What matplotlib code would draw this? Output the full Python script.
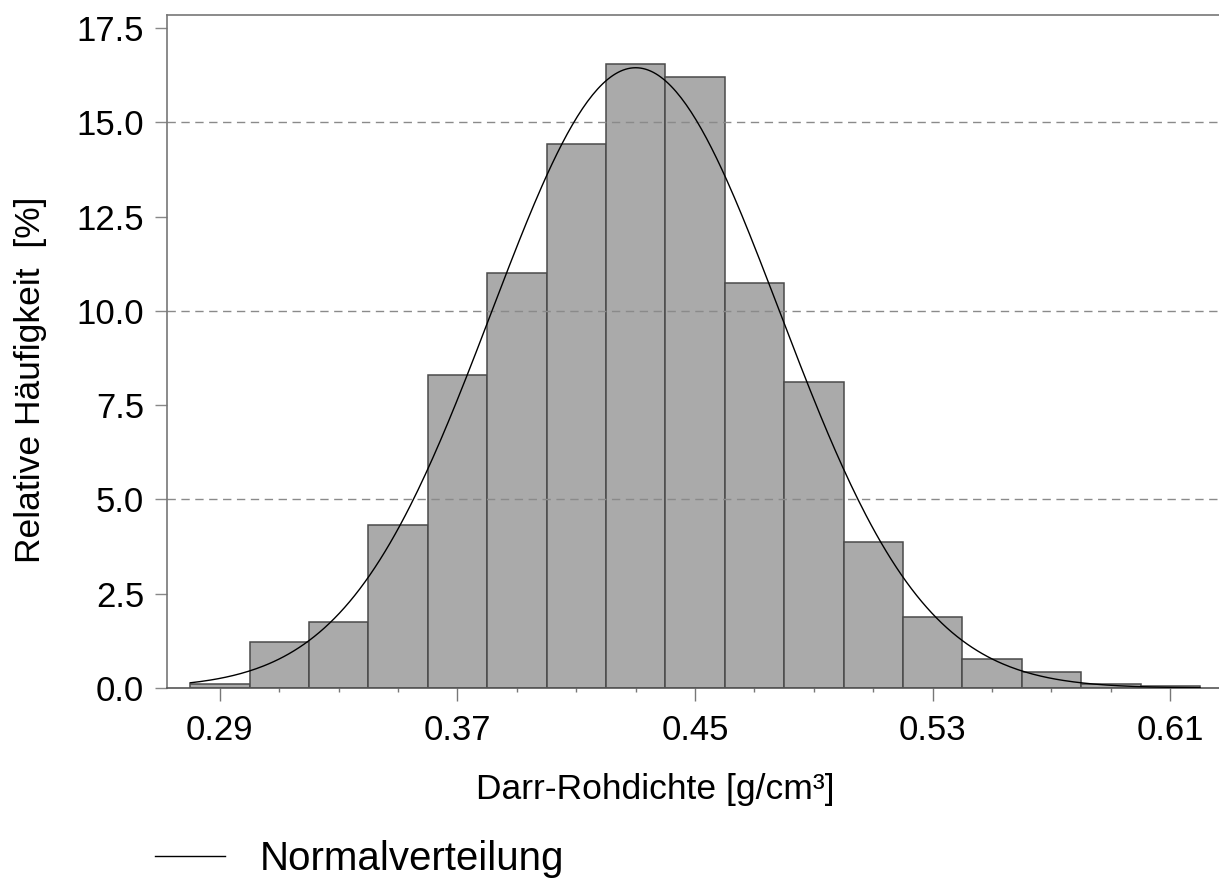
import numpy as np
import matplotlib
matplotlib.use("Agg")
import matplotlib.pyplot as plt

# Histogram of oven-dry density, classes of 0.02 g/cm3
bin_edges = [0.28, 0.30, 0.32, 0.34, 0.36, 0.38, 0.40, 0.42, 0.44,
             0.46, 0.48, 0.50, 0.52, 0.54, 0.56, 0.58, 0.60, 0.62]
rel_freq = [0.10, 1.22, 1.75, 4.31, 8.31, 11.0, 14.44, 16.56, 16.2,
            10.74, 8.12, 3.86, 1.87, 0.76, 0.43, 0.10, 0.06]

# Fitted normal distribution
fit_mean = 0.43
fit_sd = 0.0485
class_width = 0.02

x_ticks = [0.29, 0.37, 0.45, 0.53, 0.61]
x_tick_labels = ["0.29", "0.37", "0.45", "0.53", "0.61"]
x_minor = [0.31, 0.33, 0.35, 0.39, 0.41, 0.43, 0.47, 0.49, 0.51,
           0.55, 0.57, 0.59]
y_ticks = [0.0, 2.5, 5.0, 7.5, 10.0, 12.5, 15.0, 17.5]
y_tick_labels = ["0.0", "2.5", "5.0", "7.5", "10.0", "12.5", "15.0", "17.5"]
grid_levels = [5.0, 10.0, 15.0]

font = ["Liberation Sans", "DejaVu Sans"]

fig = plt.figure(figsize=(12.19, 8.83), dpi=100)
ax = fig.add_axes([167 / 1219, 1 - 688 / 883, 1 - 167 / 1219, (688 - 15) / 883])

edges = np.array(bin_edges)
widths = np.diff(edges)
ax.bar(edges[:-1], rel_freq, width=widths, align="edge",
       color="#aaaaaa", edgecolor="#4a4a4a", linewidth=1.1, zorder=1)

for g in grid_levels:
    ax.axhline(g, color="#8a8a8a", linewidth=1.0, linestyle=(0, (6, 4)), zorder=2)

xs = np.linspace(edges[0], edges[-1], 400)
pdf = np.exp(-0.5 * ((xs - fit_mean) / fit_sd) ** 2) / (fit_sd * np.sqrt(2 * np.pi))
curve, = ax.plot(xs, pdf * class_width * 100, color="black", linewidth=1.0,
                 zorder=3, label="Normalverteilung")

ax.set_xlim(0.2722, 0.6264)
ax.set_ylim(0, 17.85)

ax.set_xticks(x_ticks)
ax.set_xticklabels(x_tick_labels, family=font, fontsize=25)
ax.set_xticks(x_minor, minor=True)
ax.set_yticks(y_ticks)
ax.set_yticklabels(y_tick_labels, family=font, fontsize=25)

ax.tick_params(axis="x", which="major", direction="out", length=9, width=1,
               color="#777777", pad=10)
ax.tick_params(axis="x", which="minor", direction="out", length=3, width=1,
               color="#777777")
ax.tick_params(axis="y", direction="out", length=8.5, width=1,
               color="#888888", pad=8)

for side in ("left", "top", "bottom"):
    ax.spines[side].set_color("#777777")
    ax.spines[side].set_linewidth(1.2)
ax.spines["bottom"].set_color("#555555")
ax.spines["right"].set_visible(False)

ax.set_xlabel("Darr-Rohdichte [g/cm³]", family=font, fontsize=25.5)
ax.xaxis.set_label_coords(0.4644, -0.126)
ax.set_ylabel("Relative Häufigkeit  [%]", family=font, fontsize=25.5)
ax.yaxis.set_label_coords(-0.1137, 0.4577)

fig.legend(handles=[curve], loc="center left",
           bbox_to_anchor=(155 / 1219, 1 - 859 / 883),
           frameon=False, prop={"family": font, "size": 29},
           handlelength=1.75, handletextpad=0.85, borderpad=0, borderaxespad=0)

fig.savefig("out.png", dpi=100)
